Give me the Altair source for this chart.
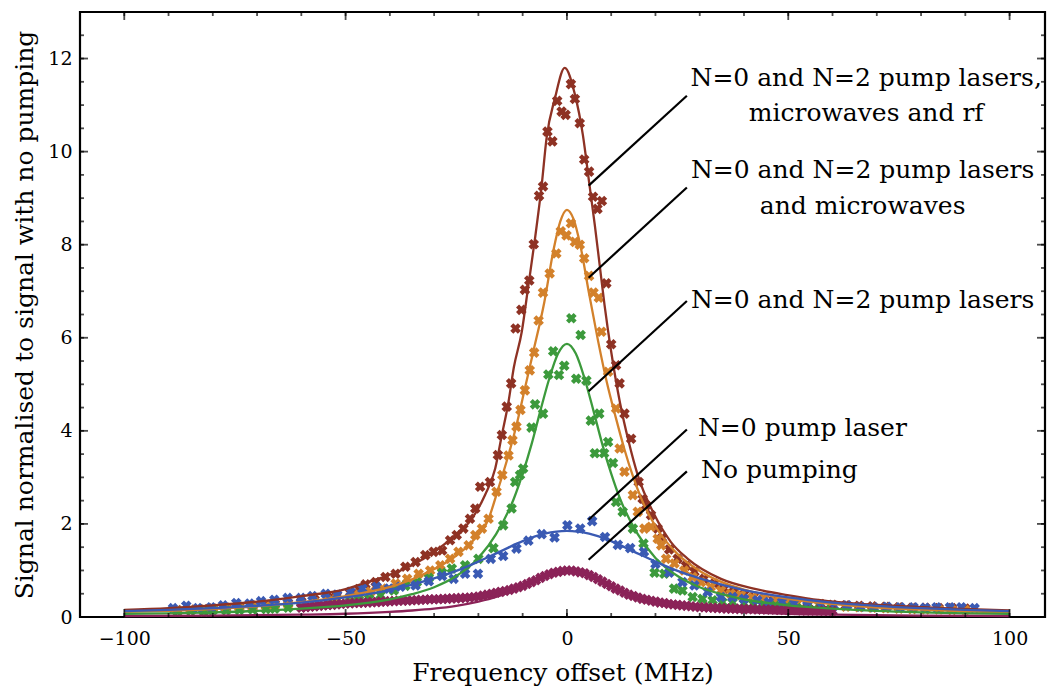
import altair as alt
import pandas as pd

FONT = "DejaVu Serif"

SERIES = ["rf", "microwaves", "lasers", "n0", "none"]
COLORS = ["#8e3224", "#d3812b", "#3c9a3c", "#3a5ab3", "#8b2358"]

X_TICK_LABELS = [-100, -50, 0, 50, 100]
X_MINOR = [-100, -90, -80, -70, -60, -50, -40, -30, -20, -10, 0, 10, 20, 30, 40, 50, 60, 70, 80, 90, 100]
Y_TICK_LABELS = [0, 2, 4, 6, 8, 10, 12]
Y_MINOR = [0.5, 1, 1.5, 2, 2.5, 3, 3.5, 4, 4.5, 5, 5.5, 6, 6.5, 7, 7.5, 8, 8.5, 9, 9.5, 10, 10.5, 11, 11.5, 12, 12.5]

# ---- measured points ----
rf_pt_x = [-88, -85, -82, -80, -77, -74, -71, -68, -66, -63, -60, -57, -54, -52, -49,
           -47, -45.5, -43.2, -41, -38.7, -36.5, -34.2, -32, -30.1, -28.2, -26.4, -24.9, -23.4, -21.9, -20.7,
           -19.6, -17.4, -15.6, -14.7, -13.6, -12.6, -11.6, -10.3, -9.5, -8.5, -7.5, -6.3, -5.4, -4.4, -3.3,
           -2.2, -1.2, -0.3, 0.9, 1.8, 2.9, 3.9, 5.0, 5.9, 6.9, 7.9, 8.9, 10.0, 11.1, 11.9,
           13.0, 14.5, 16.2, 17.1, 17.9, 19.0, 20.5, 21.5, 23.1, 25.0, 26.9, 28.8, 31.0, 33.3, 35.5,
           37.7, 40, 42.2, 44.5, 46.7, 49, 51.3, 54.3, 57.3, 60, 63, 66, 69, 72, 75, 78, 81, 84, 87, 90]
rf_pt_y = [0.15, 0.16, 0.17, 0.18, 0.20, 0.22, 0.24, 0.26, 0.28, 0.30, 0.33, 0.37, 0.42, 0.45, 0.52,
           0.60, 0.70, 0.75, 0.86, 0.93, 1.08, 1.18, 1.33, 1.40, 1.43, 1.65, 1.76, 1.90, 2.11, 2.33,
           2.80, 2.90, 3.48, 3.91, 4.52, 5.02, 6.20, 6.60, 7.03, 7.23, 8.01, 9.05, 9.25, 10.43, 10.22,
           11.09, 10.86, 10.79, 11.45, 11.13, 10.61, 9.83, 9.57, 9.03, 8.77, 8.94, 7.17, 5.86, 5.41, 5.02,
           4.37, 3.83, 2.90, 2.54, 2.40, 2.19, 1.90, 1.70, 1.45, 1.25, 1.10, 0.97, 0.82, 0.72, 0.61,
           0.54, 0.48, 0.43, 0.39, 0.36, 0.33, 0.32, 0.30, 0.28, 0.26, 0.25, 0.24, 0.23, 0.22, 0.21, 0.20, 0.20, 0.19, 0.19, 0.18]

mw_pt_x = [-88, -85, -82, -80, -77, -74, -71, -68, -66, -63, -60, -57, -54, -52, -49,
           -47, -44.4, -41.7, -38.7, -36.1, -33.5, -30.9, -28.6, -26.4, -24.5, -22.2, -20.7, -19.2, -17.7, -15.9,
           -14.6, -13.2, -12.3, -11.4, -10.5, -9.5, -8.4, -7.4, -6.4, -5.4, -3.9, -2.4, -1.4, -0.1, 0.9,
           1.8, 2.9, 3.9, 5.0, 6.0, 7.2, 7.8, 9.3, 11.1, 11.9, 13.0, 14.9, 16.0, 17.5, 19.0,
           20.5, 21.3, 22.4, 24.3, 26.5, 28.4, 30.3, 32.5, 34.8, 37, 39.3, 41.9, 44.5, 47, 49.5,
           52, 54.5, 57, 60, 63, 66, 69, 72, 75, 78, 81, 84, 87, 90]
mw_pt_y = [0.14, 0.15, 0.16, 0.17, 0.18, 0.20, 0.21, 0.23, 0.25, 0.27, 0.29, 0.32, 0.36, 0.39, 0.43,
           0.48, 0.54, 0.61, 0.72, 0.82, 0.93, 1.00, 1.11, 1.25, 1.40, 1.54, 1.76, 1.90, 2.11, 2.69,
           3.05, 3.47, 3.80, 4.09, 4.45, 4.87, 5.30, 5.68, 6.37, 6.97, 7.38, 7.81, 8.29, 8.20, 8.46,
           8.06, 8.00, 7.71, 7.33, 6.97, 6.86, 6.13, 5.27, 4.48, 3.62, 3.12, 2.62, 2.26, 1.90, 1.94,
           1.68, 1.54, 1.25, 1.15, 1.00, 0.86, 0.75, 0.65, 0.57, 0.50, 0.47, 0.42, 0.38, 0.34, 0.31,
           0.29, 0.27, 0.25, 0.24, 0.22, 0.21, 0.20, 0.19, 0.18, 0.17, 0.16, 0.16, 0.15, 0.15]

las_pt_x = [-88, -85, -82, -80, -77, -74, -71, -68, -66, -63, -60, -57, -54, -52, -49,
            -47, -44.7, -42.1, -39.1, -36.5, -33.9, -31.2, -28.2, -26, -23, -20, -16.6, -14.4, -12.5, -11.7,
            -10.6, -9.9, -8, -7.2, -5.4, -4.2, -3.1, -1.8, -0.6, 1.0, 2.1, 3.1, 4.4, 5.4, 6.3,
            7.3, 8.4, 9.3, 10.4, 11.1, 12.6, 14.9, 17.3, 19.8, 22, 24.2, 26.1, 28.4, 30.6, 32.9,
            35.1, 37.4, 40, 42.2, 44.5, 47.1, 49.7, 52, 54.5, 57, 59.5]
las_pt_y = [0.12, 0.13, 0.12, 0.14, 0.14, 0.15, 0.16, 0.17, 0.18, 0.20, 0.21, 0.23, 0.26, 0.28, 0.32,
            0.36, 0.39, 0.47, 0.57, 0.67, 0.75, 0.84, 0.95, 1.04, 1.11, 1.25, 1.48, 1.97, 2.33, 2.90,
            3.05, 3.19, 4.07, 4.57, 4.37, 5.21, 5.71, 5.20, 5.40, 6.42, 5.12, 6.06, 5.08, 4.22, 3.52,
            4.37, 3.52, 3.76, 3.31, 2.47, 2.26, 1.90, 1.58, 0.95, 0.93, 0.61, 0.57, 0.43, 0.39, 0.36,
            0.32, 0.31, 0.29, 0.27, 0.25, 0.24, 0.22, 0.19, 0.18, 0.17, 0.16]

n0_pt_x = [-89, -86, -83.4, -80.4, -77.7, -74.7, -71.7, -69.1, -66.1, -63.1, -60.1, -57.5, -54.5, -51.9, -48.9,
           -46.2, -43, -40.2, -37.6, -34.2, -31.2, -28.2, -25.6, -23, -20.1, -17.2, -14.4, -11.4, -8.7, -5.7,
           -2.8, 0.1, 3.0, 5.7, 8.6, 11.5, 14.3, 17.4, 20, 23.1, 26.1, 28.8, 31.8, 34.8, 37.4,
           40, 43, 45.6, 48.6, 51.3, 54.3, 57.3, 60.3, 63.3, 66.3, 69.3, 72.3, 75.3, 78.3, 80.9,
           83.5, 86.5, 89.1, 92.1]
n0_pt_y = [0.19, 0.24, 0.19, 0.21, 0.25, 0.30, 0.29, 0.34, 0.37, 0.41, 0.41, 0.45, 0.50, 0.48, 0.54,
           0.61, 0.65, 0.61, 0.65, 0.68, 0.77, 0.88, 0.82, 0.93, 0.93, 1.25, 1.31, 1.47, 1.64, 1.78,
           1.71, 1.97, 1.90, 2.06, 1.72, 1.55, 1.48, 1.40, 1.14, 0.95, 0.75, 0.68, 0.54, 0.43, 0.43,
           0.39, 0.36, 0.32, 0.32, 0.29, 0.25, 0.25, 0.24, 0.25, 0.22, 0.21, 0.22, 0.21, 0.21, 0.20,
           0.21, 0.21, 0.21, 0.19]

none_pt_x = list(range(-60, 61))
none_pt_y = [0.20, 0.21, 0.22, 0.23, 0.24, 0.25, 0.26, 0.26, 0.27, 0.28, 0.29, 0.29, 0.30, 0.30, 0.31, 0.31, 0.32, 0.32, 0.33, 0.33,
             0.34, 0.34, 0.35, 0.35, 0.35, 0.36, 0.36, 0.37, 0.37, 0.38, 0.38, 0.38, 0.39, 0.39, 0.40, 0.40, 0.41, 0.41, 0.42, 0.43,
             0.44, 0.46, 0.48, 0.50, 0.52, 0.54, 0.56, 0.58, 0.61, 0.64, 0.67, 0.71, 0.75, 0.79, 0.84, 0.88, 0.92, 0.95, 0.97, 0.99,
             1.00, 1.00, 0.98, 0.96, 0.94, 0.90, 0.86, 0.81, 0.76, 0.71, 0.66, 0.61, 0.57, 0.52, 0.48, 0.45, 0.42, 0.39, 0.37, 0.35,
             0.33, 0.31, 0.30, 0.28, 0.27, 0.26, 0.25, 0.24, 0.23, 0.22, 0.21, 0.21, 0.20, 0.20, 0.19, 0.19, 0.18, 0.18, 0.18, 0.17,
             0.17, 0.17, 0.17, 0.16, 0.16, 0.16, 0.16, 0.16, 0.15, 0.15, 0.15, 0.15, 0.15, 0.14, 0.14, 0.14, 0.14, 0.14, 0.13, 0.13, 0.13]

# ---- fitted curves ----
rf_fit_x = [-100, -90, -80, -70, -60, -50, -46, -42, -35, -29, -25, -21.5, -18.5, -16.2, -14.7, -13.2, -12, -10.2,
            -8.7, -7.2, -5.7, -4.6, -2.7, -0.5, 1.8, 3.6, 5.1, 6.3, 7.4, 8.5, 10, 12, 14, 16, 19.8, 23.5, 27.3,
            34.8, 42.2, 49.8, 57.3, 64.8, 72.3, 87.3, 100]
rf_fit_y = [0.15, 0.19, 0.25, 0.33, 0.45, 0.60, 0.72, 0.84, 1.11, 1.47, 1.77, 2.11, 2.62, 3.19, 3.91, 4.62, 5.36, 6.13,
            7.13, 8.14, 9.28, 10.29, 11.15, 11.80, 11.23, 10.36, 9.28, 8.42, 7.56, 6.70, 5.70, 4.60, 3.75, 3.05, 2.19, 1.61, 1.25,
            0.82, 0.61, 0.47, 0.36, 0.29, 0.25, 0.18, 0.14]

mw_fit_x = [-100, -90, -80, -70, -60, -50, -46, -38.7, -31.2, -26, -21.5, -17.7, -15.5, -13.2, -11.4, -9.5, -7.6, -5.1,
            -3, -1.5, 0, 1.5, 3, 5, 7, 9, 11, 13, 15, 17, 20, 25, 30, 35, 40, 50, 60, 70, 80, 90, 100]
mw_fit_y = [0.11, 0.13, 0.17, 0.23, 0.32, 0.45, 0.52, 0.68, 0.97, 1.25, 1.61, 2.11, 2.76, 3.48, 4.12, 4.91, 5.70, 6.77,
            7.90, 8.50, 8.75, 8.55, 8.00, 6.95, 5.95, 5.05, 4.30, 3.60, 3.00, 2.50, 1.95, 1.35, 0.99, 0.75, 0.59, 0.39, 0.28, 0.20, 0.16, 0.12, 0.10]

las_fit_x = [-100, -90, -80, -70, -60, -50, -40, -35, -30, -25, -20, -16, -12, -10, -8, -6, -4, -2, 0,
             2, 4, 6, 8, 10, 12, 16, 20, 25, 30, 35, 40, 50, 60, 70, 80, 90, 100]
las_fit_y = [0.065, 0.08, 0.10, 0.13, 0.18, 0.25, 0.38, 0.49, 0.64, 0.88, 1.27, 1.78, 2.54, 3.08, 3.71, 4.43, 5.12, 5.66, 5.87,
             5.66, 5.12, 4.43, 3.71, 3.08, 2.54, 1.78, 1.27, 0.88, 0.64, 0.49, 0.38, 0.25, 0.18, 0.13, 0.10, 0.08, 0.065]

n0_fit_x = [-100, -90, -80, -70, -60, -50, -40, -30, -25, -20, -15, -10, -5, 0,
            5, 10, 15, 20, 25, 30, 40, 50, 60, 70, 80, 90, 100]
n0_fit_y = [0.127, 0.153, 0.19, 0.24, 0.31, 0.42, 0.58, 0.83, 0.99, 1.19, 1.41, 1.63, 1.79, 1.85,
            1.79, 1.63, 1.41, 1.19, 0.99, 0.83, 0.58, 0.42, 0.31, 0.24, 0.19, 0.153, 0.127]

none_fit_x = [-100, -80, -60, -50, -40, -35, -30, -25, -20, -16, -12, -8, -4, 0,
              4, 8, 12, 16, 20, 25, 30, 35, 40, 50, 60, 80, 100]
none_fit_y = [0.02, 0.03, 0.05, 0.07, 0.11, 0.14, 0.18, 0.24, 0.33, 0.43, 0.58, 0.76, 0.93, 1.00,
              0.93, 0.76, 0.58, 0.43, 0.33, 0.24, 0.18, 0.14, 0.11, 0.07, 0.05, 0.03, 0.02]

# ---- annotations ----
ANN_X1 = [4.9, 4.9, 4.9, 4.9, 4.9]
ANN_Y1 = [9.27, 7.29, 4.85, 2.09, 1.23]
ANN_X2 = [27.1, 27.1, 27.1, 27.1, 27.1]
ANN_Y2 = [11.2, 9.23, 6.79, 4.03, 3.13]

CENTER_TEXT = ["N=0 and N=2 pump lasers,", "microwaves and rf", "N=0 and N=2 pump lasers",
               "and microwaves", "N=0 and N=2 pump lasers"]
CENTER_X = [67.6, 67.6, 66.8, 66.8, 66.8]
CENTER_Y = [11.40, 10.65, 9.43, 8.67, 6.65]
LEFT_TEXT = ["N=0 pump laser", "No pumping"]
LEFT_X = [29.6, 30.3]
LEFT_Y = [3.89, 2.99]

# ---- build tables ----
def table(name, xs, ys):
    return pd.DataFrame({"x": xs, "y": ys, "series": name})

points = pd.concat([
    table("rf", rf_pt_x, rf_pt_y),
    table("microwaves", mw_pt_x, mw_pt_y),
    table("lasers", las_pt_x, las_pt_y),
    table("n0", n0_pt_x, n0_pt_y),
    table("none", none_pt_x, none_pt_y),
], ignore_index=True)

fits = pd.concat([
    table("rf", rf_fit_x, rf_fit_y),
    table("microwaves", mw_fit_x, mw_fit_y),
    table("lasers", las_fit_x, las_fit_y),
    table("n0", n0_fit_x, n0_fit_y),
    table("none", none_fit_x, none_fit_y),
], ignore_index=True)

ann = pd.DataFrame({"x": ANN_X1, "y": ANN_Y1, "x2": ANN_X2, "y2": ANN_Y2})
ctext = pd.DataFrame({"x": CENTER_X, "y": CENTER_Y, "label": CENTER_TEXT})
ltext = pd.DataFrame({"x": LEFT_X, "y": LEFT_Y, "label": LEFT_TEXT})

X_SCALE = alt.Scale(domain=[-110, 108], nice=False, zero=False)
Y_SCALE = alt.Scale(domain=[0, 13], nice=False, zero=False)
X_AXIS = alt.Axis(values=X_TICK_LABELS, title="Frequency offset (MHz)", ticks=False, domain=False,
                  grid=False, labelFontSize=19, labelPadding=12, titleFontSize=25, titlePadding=12,
                  format="d", labelFont=FONT, titleFont=FONT, labelColor="black", titleColor="black",
                  titleFontWeight="normal")
Y_AXIS = alt.Axis(values=Y_TICK_LABELS, title="Signal normalised to signal with no pumping", ticks=False,
                  domain=False, grid=False, labelFontSize=19, labelPadding=8, titleFontSize=25,
                  titlePadding=10, format="d", labelFont=FONT, titleFont=FONT, labelColor="black",
                  titleColor="black", titleFontWeight="normal")


def xf(field="x"):
    return alt.X(f"{field}:Q", scale=X_SCALE, axis=X_AXIS)


def yf(field="y"):
    return alt.Y(f"{field}:Q", scale=Y_SCALE, axis=Y_AXIS)


color = alt.Color("series:N", scale=alt.Scale(domain=SERIES, range=COLORS), legend=None)

pt_layer = alt.Chart(points).mark_point(
    shape="cross", angle=45, filled=True, size=115, opacity=1
).encode(x=xf(), y=yf(), color=color)

fit_layer = alt.Chart(fits).mark_line(strokeWidth=2.3, interpolate="monotone").encode(
    x=xf(), y=yf(), color=color)

ann_layer = alt.Chart(ann).mark_rule(color="black", strokeWidth=2.2).encode(
    x=xf(), y=yf(), x2="x2:Q", y2="y2:Q")

ctext_layer = alt.Chart(ctext).mark_text(
    font=FONT, fontSize=25, align="center", baseline="alphabetic", color="black"
).encode(x=xf(), y=yf(), text="label:N")

ltext_layer = alt.Chart(ltext).mark_text(
    font=FONT, fontSize=25, align="left", baseline="alphabetic", color="black"
).encode(x=xf(), y=yf(), text="label:N")


def xticks(values, size, at_y, offset):
    df = pd.DataFrame({"x": values})
    return alt.Chart(df).mark_tick(orient="vertical", size=size, thickness=1.8, color="black",
                                   yOffset=offset).encode(
        x=xf(), y=alt.YDatum(at_y, scale=Y_SCALE, axis=Y_AXIS))


def yticks(values, size, at_x, offset):
    df = pd.DataFrame({"y": values})
    return alt.Chart(df).mark_tick(orient="horizontal", size=size, thickness=1.8, color="black",
                                   xOffset=offset).encode(
        y=yf(), x=alt.XDatum(at_x, scale=X_SCALE, axis=X_AXIS))


tick_layers = [
    xticks(X_MINOR, 4, 0, -2), xticks(X_TICK_LABELS, 8, 0, -4),
    xticks(X_MINOR, 4, 13, 2), xticks(X_TICK_LABELS, 8, 13, 4),
    yticks(Y_MINOR, 4, -110, 2), yticks(Y_TICK_LABELS, 8, -110, 4),
    yticks(Y_MINOR, 4, 108, -2), yticks(Y_TICK_LABELS, 8, 108, -4),
]

chart = alt.layer(
    pt_layer, fit_layer, ann_layer, ctext_layer, ltext_layer, *tick_layers
).properties(
    width=1039, height=679,
    autosize=alt.AutoSizeParams(type="fit", contains="padding"),
    padding={"left": 4, "top": 4, "right": 2, "bottom": 2},
).configure_view(stroke="black", strokeWidth=2.2)

chart.save("out.html", embed_options={"renderer": "svg", "actions": False})
